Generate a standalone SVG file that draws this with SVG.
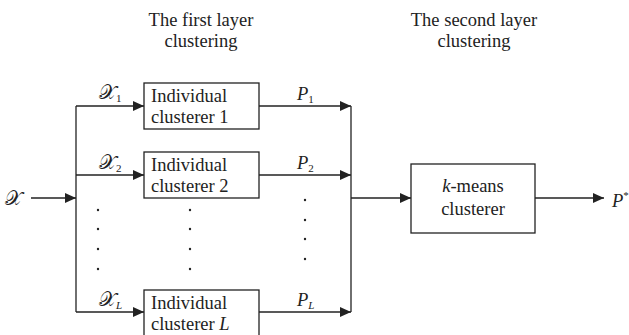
<svg xmlns="http://www.w3.org/2000/svg" width="629" height="335" viewBox="0 0 629 335">
<defs>
<style>
text{font-family:"Liberation Serif","Times New Roman",serif;fill:#222;font-size:18.5px}
.c{text-anchor:middle}
.i{font-style:italic}
.s{font-size:11px}
.m{font-family:"DejaVu Serif","DejaVu Sans","Noto Sans",serif;font-style:normal;font-size:20px}
.box{fill:#fff;stroke:#222;stroke-width:1.3}
.ln{fill:none;stroke:#222;stroke-width:1.3}
.dot{fill:#222}
</style>
<marker id="ah" viewBox="0 0 11 10" refX="11" refY="5" markerWidth="11" markerHeight="10" markerUnits="userSpaceOnUse" orient="auto">
<path d="M0,0 L11,5 L0,10 Z" fill="#222"/>
</marker>
</defs>
<g id="titles">
<text class="c" x="201" y="26">The first layer</text>
<text class="c" x="201" y="47">clustering</text>
<text class="c" x="474" y="26">The second layer</text>
<text class="c" x="474" y="47">clustering</text>
</g>
<g id="connectors">
<path class="ln" d="M31,198 H76" marker-end="url(#ah)"/>
<path class="ln" d="M76,106 V312"/>
<path class="ln" d="M76,106 H144" marker-end="url(#ah)"/>
<path class="ln" d="M76,175 H144" marker-end="url(#ah)"/>
<path class="ln" d="M76,312 H144" marker-end="url(#ah)"/>
<path class="ln" d="M259,106 H351" marker-end="url(#ah)"/>
<path class="ln" d="M259,175 H351" marker-end="url(#ah)"/>
<path class="ln" d="M259,312 H351" marker-end="url(#ah)"/>
<path class="ln" d="M351,106 V312"/>
<path class="ln" d="M351,198 H411" marker-end="url(#ah)"/>
<path class="ln" d="M535,198 H604" marker-end="url(#ah)"/>
</g>
<g id="labels">
<text x="5" y="205" class="m">𝒳</text>
<text x="99" y="99" class="m">𝒳<tspan class="s" dy="3" style="font-family:'Liberation Serif',serif">1</tspan></text>
<text x="99" y="169" class="m">𝒳<tspan class="s" dy="3" style="font-family:'Liberation Serif',serif">2</tspan></text>
<text x="99" y="306" class="m">𝒳<tspan class="s i" dy="3" style="font-family:'Liberation Serif',serif">L</tspan></text>
<text x="297" y="100" class="i">P<tspan class="s" dy="3" style="font-style:normal">1</tspan></text>
<text x="297" y="169" class="i">P<tspan class="s" dy="3" style="font-style:normal">2</tspan></text>
<text x="297" y="306" class="i">P<tspan class="s" dy="3">L</tspan></text>
<text x="612" y="207" class="i">P<tspan class="s" dy="-8" style="font-style:normal">*</tspan></text>
</g>
<g id="dots">
<circle class="dot" cx="98" cy="210" r="1.2"/><circle class="dot" cx="98" cy="229" r="1.2"/><circle class="dot" cx="98" cy="249" r="1.2"/><circle class="dot" cx="98" cy="269" r="1.2"/>
<circle class="dot" cx="190" cy="210" r="1.2"/><circle class="dot" cx="190" cy="229" r="1.2"/><circle class="dot" cx="190" cy="249" r="1.2"/><circle class="dot" cx="190" cy="269" r="1.2"/>
<circle class="dot" cx="305" cy="200" r="1.2"/><circle class="dot" cx="305" cy="220" r="1.2"/><circle class="dot" cx="305" cy="239" r="1.2"/><circle class="dot" cx="305" cy="259" r="1.2"/>
</g>
<g id="clusterer1">
<rect class="box" x="144" y="83" width="115" height="46"/>
<text x="151" y="102">Individual</text>
<text x="151" y="123">clusterer 1</text>
</g>
<g id="clusterer2">
<rect class="box" x="144" y="152" width="115" height="46"/>
<text x="151" y="171">Individual</text>
<text x="151" y="192">clusterer 2</text>
</g>
<g id="clustererL">
<rect class="box" x="144" y="290" width="115" height="46"/>
<text x="151" y="309">Individual</text>
<text x="151" y="330">clusterer <tspan class="i">L</tspan></text>
</g>
<g id="kmeans">
<rect class="box" x="411" y="164" width="124" height="69"/>
<text class="c" x="473" y="192"><tspan class="i">k</tspan>-means</text>
<text class="c" x="473" y="215">clusterer</text>
</g>
</svg>
